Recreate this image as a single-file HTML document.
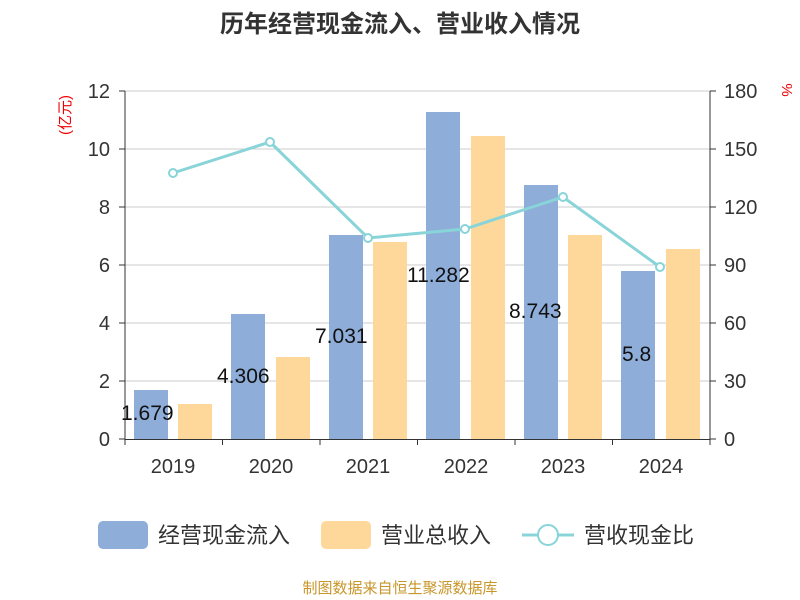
<!DOCTYPE html>
<html><head><meta charset="utf-8"><style>body{margin:0;background:#fff}svg{display:block}</style></head><body>
<svg width="800" height="600" xmlns="http://www.w3.org/2000/svg" font-family="Liberation Sans, Noto Sans CJK SC, sans-serif">
<text x="400" y="32" text-anchor="middle" font-size="24" font-weight="bold" fill="#333">历年经营现金流入、营业收入情况</text>
<g stroke="#ccc" stroke-width="1">
<line x1="125" x2="710" y1="91" y2="91"/><line x1="125" x2="710" y1="149" y2="149"/><line x1="125" x2="710" y1="207" y2="207"/><line x1="125" x2="710" y1="265" y2="265"/><line x1="125" x2="710" y1="323" y2="323"/><line x1="125" x2="710" y1="381" y2="381"/>
</g>
<g stroke="#333" stroke-width="1">
<line x1="125" x2="125" y1="91" y2="439"/><line x1="710" x2="710" y1="91" y2="439"/><line x1="125" x2="710" y1="439.5" y2="439.5"/>
<line x1="119" x2="125" y1="91" y2="91"/><line x1="119" x2="125" y1="149" y2="149"/><line x1="119" x2="125" y1="207" y2="207"/><line x1="119" x2="125" y1="265" y2="265"/><line x1="119" x2="125" y1="323" y2="323"/><line x1="119" x2="125" y1="381" y2="381"/><line x1="119" x2="125" y1="439" y2="439"/>
<line x1="710" x2="716" y1="91" y2="91"/><line x1="710" x2="716" y1="149" y2="149"/><line x1="710" x2="716" y1="207" y2="207"/><line x1="710" x2="716" y1="265" y2="265"/><line x1="710" x2="716" y1="323" y2="323"/><line x1="710" x2="716" y1="381" y2="381"/><line x1="710" x2="716" y1="439" y2="439"/>
<line x1="125" x2="125" y1="439" y2="445"/><line x1="222.5" x2="222.5" y1="439" y2="445"/><line x1="320" x2="320" y1="439" y2="445"/><line x1="417.5" x2="417.5" y1="439" y2="445"/><line x1="515" x2="515" y1="439" y2="445"/><line x1="612.5" x2="612.5" y1="439" y2="445"/><line x1="710" x2="710" y1="439" y2="445"/>
</g>
<g font-size="20" fill="#333" text-anchor="end">
<text x="110" y="98">12</text><text x="110" y="156">10</text><text x="110" y="214">8</text><text x="110" y="272">6</text><text x="110" y="330">4</text><text x="110" y="388">2</text><text x="110" y="446">0</text>
</g>
<g font-size="20" fill="#333" text-anchor="start">
<text x="724" y="98">180</text><text x="724" y="156">150</text><text x="724" y="214">120</text><text x="724" y="272">90</text><text x="724" y="330">60</text><text x="724" y="388">30</text><text x="724" y="446">0</text>
</g>
<g font-size="20" fill="#333" text-anchor="middle">
<text x="173" y="473">2019</text><text x="271" y="473">2020</text><text x="368" y="473">2021</text><text x="466" y="473">2022</text><text x="563" y="473">2023</text><text x="661" y="473">2024</text>
</g>
<text transform="translate(70,115) rotate(-90)" font-size="15" fill="#e00" text-anchor="middle">(亿元)</text>
<text transform="translate(782,90) rotate(90)" font-size="15" fill="#e00" text-anchor="middle">%</text>
<g fill="#8eadd9">
<rect x="134" y="390" width="34" height="49"/><rect x="231" y="314" width="34" height="125"/><rect x="329" y="235" width="34" height="204"/><rect x="426" y="112" width="34" height="327"/><rect x="524" y="185" width="34" height="254"/><rect x="621" y="271" width="34" height="168"/>
</g>
<g font-size="21" fill="#111" text-anchor="start">
<text x="121" y="420">1.679</text><text x="217" y="383">4.306</text><text x="315" y="343">7.031</text><text x="407" y="282">11.282</text><text x="509" y="318">8.743</text><text x="622" y="361">5.8</text>
</g>
<g fill="#fed89a">
<rect x="178" y="404" width="34" height="35"/><rect x="276" y="357" width="34" height="82"/><rect x="373" y="242" width="34" height="197"/><rect x="471" y="136" width="34" height="303"/><rect x="568" y="235" width="34" height="204"/><rect x="666" y="249" width="34" height="190"/>
</g>
<polyline points="173,173 270,142 368,238 465,229 563,197 660,267" fill="none" stroke="#88d4d8" stroke-width="3"/>
<g fill="#fff" stroke="#88d4d8" stroke-width="2">
<circle cx="173" cy="173" r="4"/><circle cx="270" cy="142" r="4"/><circle cx="368" cy="238" r="4"/><circle cx="465" cy="229" r="4"/><circle cx="563" cy="197" r="4"/><circle cx="660" cy="267" r="4"/>
</g>
<rect x="98" y="521" width="50" height="28" rx="5" fill="#8eadd9"/>
<text x="158" y="543" font-size="22" fill="#333">经营现金流入</text>
<rect x="321" y="521" width="50" height="28" rx="5" fill="#fed89a"/>
<text x="381" y="543" font-size="22" fill="#333">营业总收入</text>
<line x1="522" x2="574" y1="535" y2="535" stroke="#88d4d8" stroke-width="3"/>
<circle cx="548" cy="535" r="10" fill="#fff" stroke="#88d4d8" stroke-width="2"/>
<text x="584" y="543" font-size="22" fill="#333">营收现金比</text>
<text x="400" y="593" text-anchor="middle" font-size="15" fill="#c8962a">制图数据来自恒生聚源数据库</text>
</svg>
</body></html>
